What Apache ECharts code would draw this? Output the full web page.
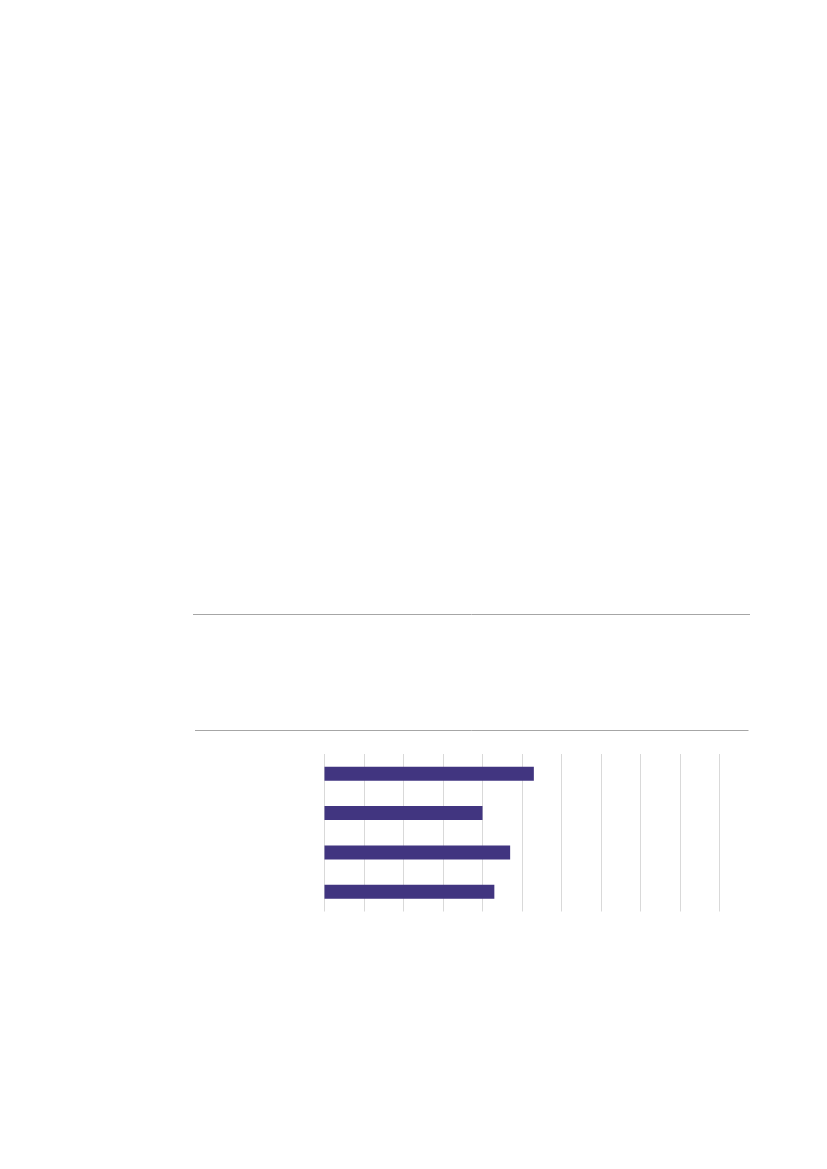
<!DOCTYPE html>
<html>
<head>
<meta charset="utf-8">
<script src="https://cdn.jsdelivr.net/npm/echarts@6/dist/echarts.min.js"></script>
<style>
  html, body { margin: 0; padding: 0; background: #fff; }
  #chart { width: 827px; height: 1169px; }
</style>
</head>
<body>
<div id="chart"></div>
<script>
// unlabeled categories, top to bottom
const categories = ['1', '2', '3', '4'];
const values = [5.3, 4.0, 4.7, 4.3];
const axisMin = 0;
const axisMax = 10;
const axisStep = 1;

window.addEventListener('load', function () {
    var chart = echarts.init(document.getElementById('chart'), null, { renderer: 'canvas' });
    chart.setOption({
        animation: false,
        backgroundColor: '#ffffff',
        grid: { left: 324.5, right: 107.5, top: 754, height: 157.5, containLabel: false },
        xAxis: {
            type: 'value',
            min: axisMin,
            max: axisMax,
            interval: axisStep,
            axisLine: { show: false },
            axisTick: { show: false },
            axisLabel: { show: false },
            splitLine: { show: true, lineStyle: { color: '#d9d9d9', width: 1 } }
        },
        yAxis: {
            type: 'category',
            data: categories,
            inverse: true,
            axisLine: { show: false },
            axisTick: { show: false },
            axisLabel: { show: false },
            splitLine: { show: false }
        },
        series: [{
            type: 'bar',
            data: values,
            barWidth: 14,
            itemStyle: { color: '#413580' }
        }],
        // the two rules above the chart
        graphic: [
            { type: 'line', shape: { x1: 193, y1: 614.5, x2: 750, y2: 614.5 },
              style: { stroke: '#a6a6a6', lineWidth: 1 } },
            { type: 'line', shape: { x1: 195, y1: 730.5, x2: 748.5, y2: 730.5 },
              style: { stroke: '#a6a6a6', lineWidth: 1 } }
        ]
    });
});
</script>
</body>
</html>
